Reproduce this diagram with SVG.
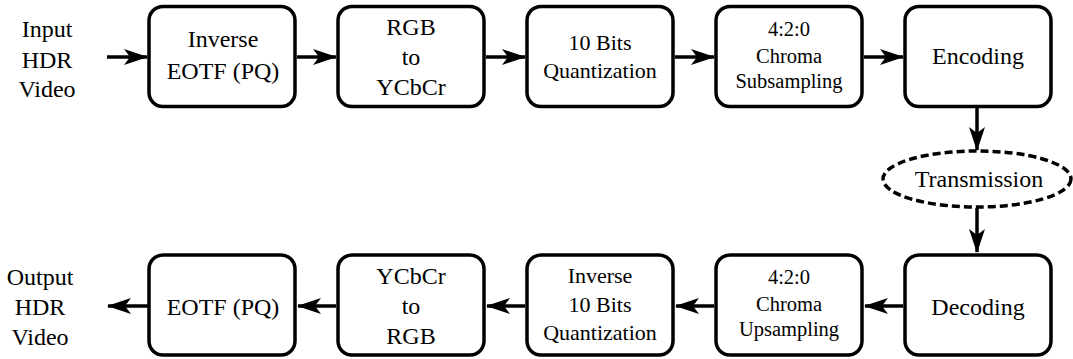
<svg xmlns="http://www.w3.org/2000/svg" width="1073" height="359" viewBox="0 0 1073 359">
<style>
.box{fill:#fff;stroke:#000;stroke-width:3.5}
.t{font-family:"Liberation Serif","Times New Roman",serif;font-size:24px;fill:#000;text-anchor:middle}
.m{font-size:22px}
.s{font-size:20.5px}
.c{stroke:#000;stroke-width:3.5;fill:none}
</style>
<defs>
<marker id="ah" markerWidth="24" markerHeight="16" viewBox="0 0 24 16" refX="23" refY="8" orient="auto" markerUnits="userSpaceOnUse">
<path d="M0,0 L24,8 L0,16 L6,8 Z" fill="#000"/>
</marker>
</defs>
<g id="connectors">
<line class="c" x1="107" y1="57" x2="147" y2="57" marker-end="url(#ah)"/>
<line class="c" x1="297" y1="57" x2="336" y2="57" marker-end="url(#ah)"/>
<line class="c" x1="486" y1="57" x2="525" y2="57" marker-end="url(#ah)"/>
<line class="c" x1="675" y1="57" x2="714" y2="57" marker-end="url(#ah)"/>
<line class="c" x1="864" y1="57" x2="903" y2="57" marker-end="url(#ah)"/>
<line class="c" x1="977" y1="108" x2="977" y2="150" marker-end="url(#ah)"/>
<line class="c" x1="977" y1="208" x2="977" y2="252" marker-end="url(#ah)"/>
<line class="c" x1="903" y1="306" x2="865" y2="306" marker-end="url(#ah)"/>
<line class="c" x1="714" y1="306" x2="676" y2="306" marker-end="url(#ah)"/>
<line class="c" x1="525" y1="306" x2="487" y2="306" marker-end="url(#ah)"/>
<line class="c" x1="336" y1="306" x2="298" y2="306" marker-end="url(#ah)"/>
<line class="c" x1="148" y1="306" x2="108" y2="306" marker-end="url(#ah)"/>
</g>
<g id="input"><text class="t" x="47" y="37">Input</text><text class="t" x="47" y="68">HDR</text><text class="t" x="47" y="97">Video</text></g>
<g id="inv-eotf"><rect class="box" x="149" y="6.5" width="146" height="100" rx="14"/><text class="t" x="223" y="47">Inverse</text><text class="t" x="223" y="79">EOTF (PQ)</text></g>
<g id="rgb2ycbcr"><rect class="box" x="338" y="6.5" width="146" height="100" rx="14"/><text class="t" x="411" y="35">RGB</text><text class="t" x="411" y="65">to</text><text class="t" x="411" y="95">YCbCr</text></g>
<g id="quant"><rect class="box" x="527" y="6.5" width="146" height="100" rx="14"/><text class="t m" x="600" y="50">10 Bits</text><text class="t m" x="600" y="78">Quantization</text></g>
<g id="subsample"><rect class="box" x="716" y="6.5" width="146" height="100" rx="14"/><text class="t s" x="789" y="36">4:2:0</text><text class="t s" x="789" y="63">Chroma</text><text class="t s" x="789" y="88">Subsampling</text></g>
<g id="encoding"><rect class="box" x="905" y="6.5" width="146" height="100" rx="14"/><text class="t" x="978" y="64">Encoding</text></g>
<g id="transmission"><ellipse cx="977" cy="179" rx="94" ry="28" fill="#fff" stroke="#000" stroke-width="3.5" stroke-dasharray="8,4"/><text class="t" x="979" y="187">Transmission</text></g>
<g id="decoding"><rect class="box" x="905" y="255" width="146" height="100" rx="14"/><text class="t" x="978" y="315">Decoding</text></g>
<g id="upsample"><rect class="box" x="716" y="255" width="146" height="100" rx="14"/><text class="t s" x="789" y="284">4:2:0</text><text class="t s" x="789" y="311">Chroma</text><text class="t s" x="789" y="336">Upsampling</text></g>
<g id="invquant"><rect class="box" x="527" y="255" width="146" height="100" rx="14"/><text class="t m" x="600" y="283">Inverse</text><text class="t m" x="600" y="312">10 Bits</text><text class="t m" x="600" y="340">Quantization</text></g>
<g id="ycbcr2rgb"><rect class="box" x="338" y="255" width="146" height="100" rx="14"/><text class="t" x="411" y="284">YCbCr</text><text class="t" x="411" y="314">to</text><text class="t" x="411" y="344">RGB</text></g>
<g id="eotf"><rect class="box" x="149" y="255" width="146" height="100" rx="14"/><text class="t" x="223" y="315">EOTF (PQ)</text></g>
<g id="output"><text class="t" x="40" y="285">Output</text><text class="t" x="40" y="315">HDR</text><text class="t" x="40" y="345">Video</text></g>
</svg>
